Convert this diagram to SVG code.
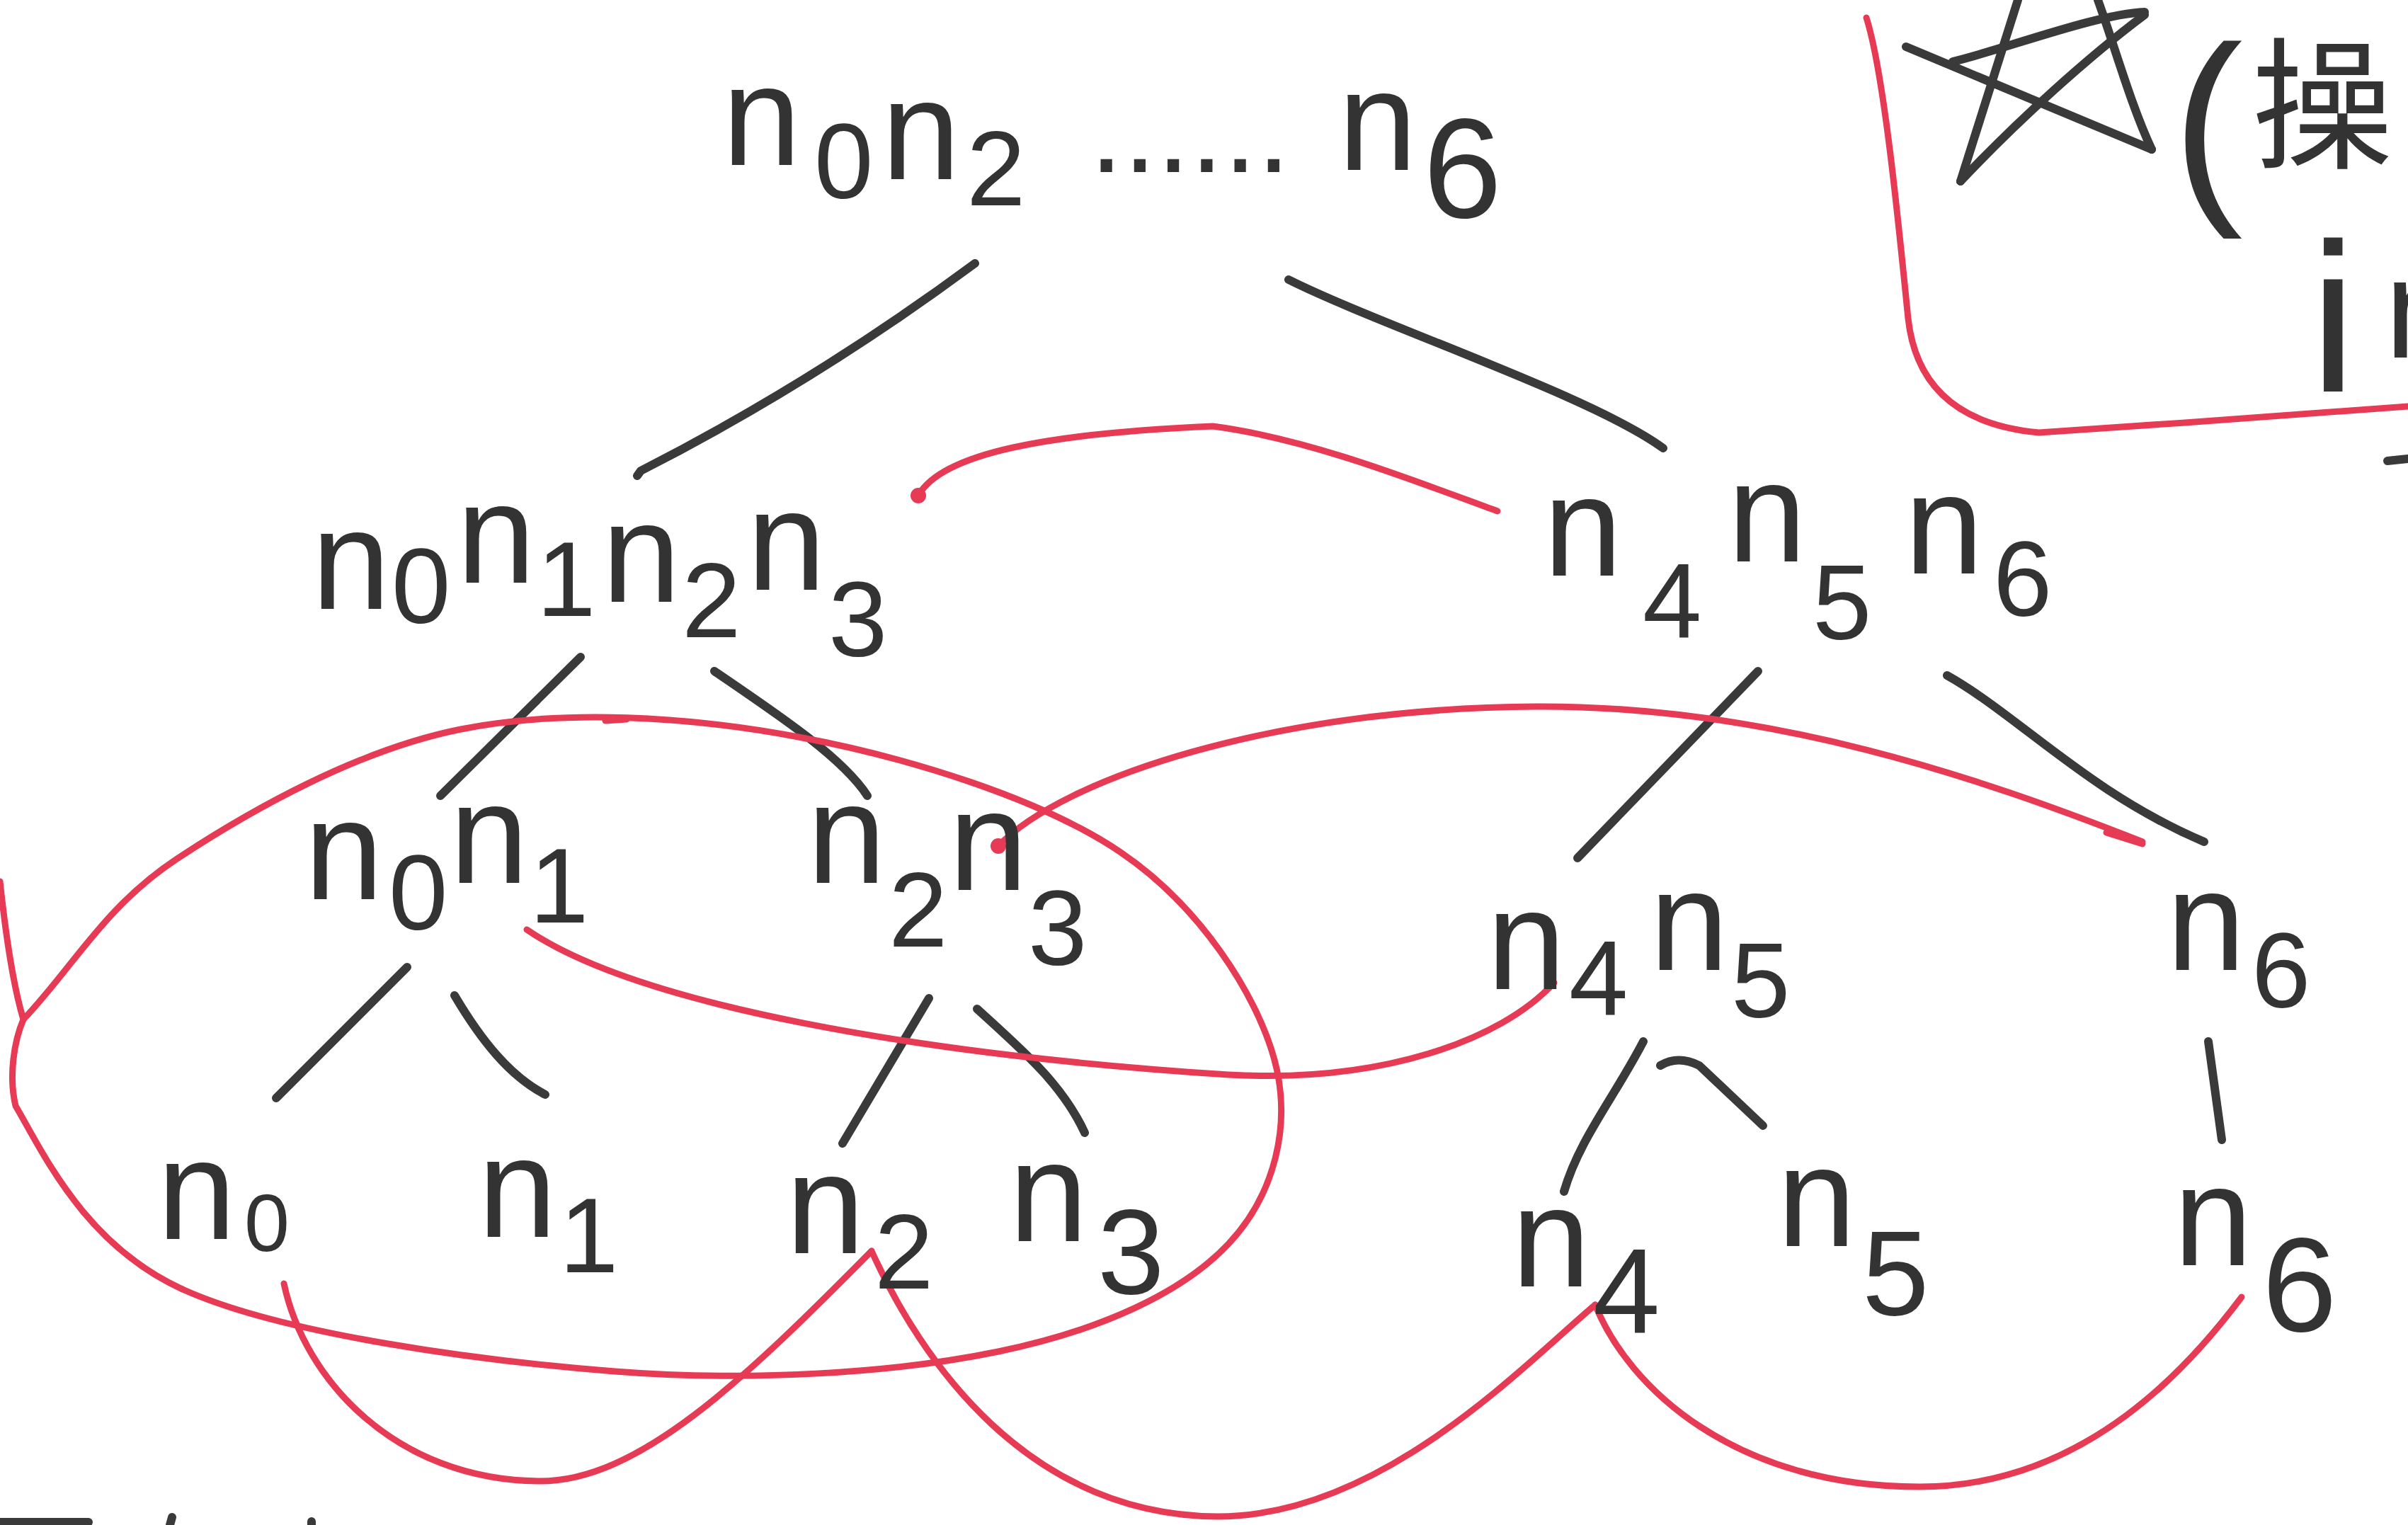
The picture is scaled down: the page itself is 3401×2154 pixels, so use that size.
<svg xmlns="http://www.w3.org/2000/svg" width="3401" height="2154" viewBox="0 0 3401 2154">
<style>
.lbl{font-family:"Liberation Sans",Arial,sans-serif;fill:#333}
.n{font-size:200px}
.s{font-size:150px}
.edge{fill:none;stroke:#3a3a3a;stroke-width:12;stroke-linecap:round;stroke-linejoin:round}
.red{fill:none;stroke:#e63a55;stroke-width:9;stroke-linecap:round;stroke-linejoin:round}
.dot{fill:#e63a55}
.ink{fill:none;stroke:#3a3a3a;stroke-width:12;stroke-linecap:round;stroke-linejoin:round}
</style>
<rect width="3401" height="2154" fill="#ffffff"/>

<g id="connectors">
  <g id="tree-edges">
    <path class="edge" d="M1377,372 Q1150,540 905,665 L900,672"/>
    <path class="edge" d="M1820,395 C1950,460 2250,560 2349,633"/>
    <path class="edge" d="M820,928 L622,1124"/>
    <path class="edge" d="M1009,948 C1100,1010 1190,1070 1225,1124"/>
    <path class="edge" d="M2483,948 L2228,1212"/>
    <path class="edge" d="M2750,954 C2850,1010 2950,1120 3113,1189"/>
    <path class="edge" d="M575,1366 L390,1551"/>
    <path class="edge" d="M642,1406 C680,1470 720,1520 770,1546"/>
    <path class="edge" d="M1312,1410 L1190,1615"/>
    <path class="edge" d="M1380,1425 C1440,1480 1500,1530 1532,1600"/>
    <path class="edge" d="M2321,1471 C2280,1550 2230,1610 2209,1683"/>
    <path class="edge" d="M2345,1505 Q2370,1490 2400,1505 L2490,1590"/>
    <path class="edge" d="M3119,1471 L3138,1610"/>
  </g>
  <g id="red-links">
    <path class="red" d="M1297,700 C1330,640 1480,612 1713,602 C1850,620 2000,680 2115,722"/>
    <circle class="dot" cx="1297" cy="700" r="11"/>
    <path class="red" d="M0,1245 C8,1320 18,1390 33,1440"/>
    <path class="red" d="M33,1440 C105,1364 147,1281 250,1213 C353,1145 505,1059 651,1030 C797,1001 973,1012 1128,1041 C1283,1070 1471,1128 1583,1204 C1695,1280 1775,1405 1800,1497 C1825,1589 1800,1688 1735,1757 C1670,1826 1555,1879 1410,1909 C1265,1939 1060,1952 868,1937 C676,1922 401,1885 260,1822 C119,1759 60,1626 22,1562 C12,1520 20,1470 33,1440 Z"/>
    <path class="red" d="M855,1018 L885,1016" stroke-width="13"/>
    <path class="red" d="M1410,1195 C1500,1100 1800,1000 2169,998 C2500,996 2800,1100 3026,1189"/>
    <circle class="dot" cx="1410" cy="1195" r="11"/>
    <path class="red" d="M2975,1176 L3026,1192" stroke-width="17"/>
    <path class="red" d="M744,1313 C900,1420 1300,1490 1735,1518 C1950,1530 2120,1470 2195,1388"/>
    <path class="red" d="M401,1813 C430,1950 560,2090 760,2092 C900,2094 1050,1950 1231,1767"/>
    <path class="red" d="M1231,1767 C1300,1920 1450,2140 1720,2142 C1950,2142 2150,1930 2253,1843"/>
    <path class="red" d="M2253,1843 C2300,1960 2450,2100 2711,2100 C2950,2100 3100,1920 3166,1832"/>
    <path class="red" d="M2636,25 C2660,100 2680,300 2695,450 C2705,540 2760,600 2880,611 C3050,600 3250,585 3401,574"/>
  </g>
</g>

<g id="root">
  <text class="lbl"><tspan class="n" x="1020" y="233">n</tspan><tspan class="s" x="1150" y="280">0</tspan><tspan class="n" x="1245" y="253">n</tspan><tspan class="s" x="1365" y="290">2</tspan><tspan style="font-size:170px" x="1539" y="243">......</tspan><tspan class="n" x="1890" y="240">n</tspan><tspan style="font-size:200px" x="2010" y="307">6</tspan></text>
</g>

<g id="node-n0n1n2n3">
  <text class="lbl"><tspan class="n" x="440" y="860">n</tspan><tspan class="s" x="553" y="880">0</tspan><tspan class="n" x="645" y="823">n</tspan><tspan class="s" x="758" y="870">1</tspan><tspan class="n" x="850" y="850">n</tspan><tspan class="s" x="963" y="900">2</tspan><tspan class="n" x="1055" y="833">n</tspan><tspan class="s" x="1170" y="927">3</tspan></text>
</g>

<g id="node-n4n5n6">
  <text class="lbl"><tspan class="n" x="2180" y="813">n</tspan><tspan class="s" x="2320" y="900">4</tspan><tspan class="n" x="2440" y="793">n</tspan><tspan class="s" x="2560" y="903">5</tspan><tspan class="n" x="2690" y="810">n</tspan><tspan class="s" x="2815" y="870">6</tspan></text>
</g>

<g id="node-n0n1">
  <text class="lbl"><tspan class="n" x="430" y="1270">n</tspan><tspan class="s" x="549" y="1313">0</tspan><tspan class="n" x="635" y="1247">n</tspan><tspan class="s" x="748" y="1303">1</tspan></text>
</g>

<g id="node-n2n3">
  <text class="lbl"><tspan class="n" x="1140" y="1247">n</tspan><tspan class="s" x="1255" y="1337">2</tspan><tspan class="n" x="1340" y="1257">n</tspan><tspan class="s" x="1452" y="1363">3</tspan></text>
</g>

<g id="node-n4n5">
  <text class="lbl"><tspan class="n" x="2100" y="1397">n</tspan><tspan class="s" x="2216" y="1433">4</tspan><tspan class="n" x="2330" y="1370">n</tspan><tspan class="s" x="2445" y="1437">5</tspan></text>
</g>

<g id="node-n6-mid">
  <text class="lbl"><tspan class="n" x="3060" y="1370">n</tspan><tspan class="s" x="3180" y="1423">6</tspan></text>
</g>

<g id="leaf-n0">
  <text class="lbl"><tspan class="n" x="222" y="1750">n</tspan><tspan style="font-size:115px" x="345" y="1767">0</tspan></text>
</g>
<g id="leaf-n1">
  <text class="lbl"><tspan class="n" x="675" y="1747">n</tspan><tspan class="s" x="790" y="1797">1</tspan></text>
</g>
<g id="leaf-n2">
  <text class="lbl"><tspan class="n" x="1110" y="1770">n</tspan><tspan class="s" x="1235" y="1820">2</tspan></text>
</g>
<g id="leaf-n3">
  <text class="lbl"><tspan class="n" x="1425" y="1753">n</tspan><tspan style="font-size:170px" x="1550" y="1827">3</tspan></text>
</g>
<g id="leaf-n4">
  <text class="lbl"><tspan class="n" x="2135" y="1817">n</tspan><tspan style="font-size:170px" x="2250" y="1883">4</tspan></text>
</g>
<g id="leaf-n5">
  <text class="lbl"><tspan class="n" x="2510" y="1760">n</tspan><tspan style="font-size:170px" x="2630" y="1857">5</tspan></text>
</g>
<g id="leaf-n6">
  <text class="lbl"><tspan class="n" x="3070" y="1787">n</tspan><tspan style="font-size:190px" x="3195" y="1880">6</tspan></text>
</g>

<g id="note-top-right">
  <path class="ink" d="M2692,66 L3039,211"/>
  <path class="ink" d="M3039,211 C3010,150 2985,60 2963,0"/>
  <path class="ink" d="M2850,0 L2769,256" stroke-width="6"/>
  <path class="ink" d="M2769,256 C2850,170 2950,80 3029,21"/>
  <path class="ink" d="M3029,17 C2960,20 2830,70 2758,87"/>
  <text class="lbl" style="font-size:300px" x="3068" y="275">(</text>
  <text style="font-family:'Noto Sans CJK SC','Noto Sans CJK JP',sans-serif;font-size:200px;fill:#333" x="3180" y="222">操</text>
  <text class="lbl" style="font-size:300px" x="3262" y="553">i</text>
  <text class="lbl" style="font-size:200px" x="3368" y="505">n</text>
  <path class="ink" d="M3372,651 L3401,648"/>
</g>

<g id="edge-marks">
  <path class="ink" d="M0,2150 L125,2150"/>
  <path class="ink" d="M243,2143 L240,2154"/>
  <path class="ink" d="M440,2149 L440,2154"/>
</g>
</svg>
